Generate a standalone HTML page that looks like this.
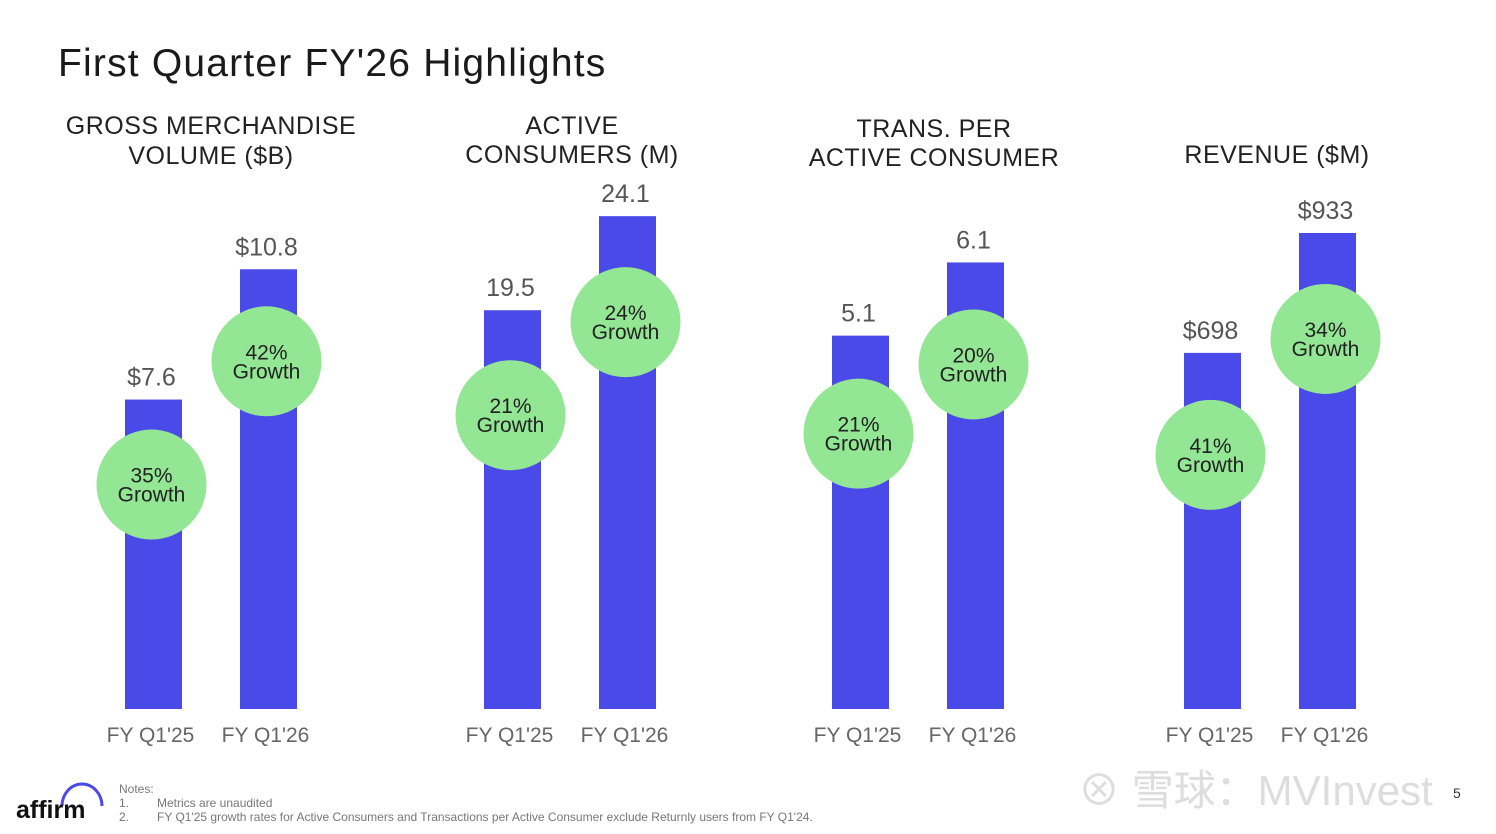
<!DOCTYPE html>
<html><head><meta charset="utf-8"><style>
body{margin:0;background:#fff;font-family:"Liberation Sans","Noto Sans CJK SC",sans-serif;}
#wrap{position:relative;width:1496px;height:834px;overflow:hidden;}
svg text{font-family:"Liberation Sans","Noto Sans CJK SC",sans-serif;}
</style></head><body>
<div id="wrap">
<svg id="chart" width="1496" height="834">
<text x="58" y="76" font-size="39" letter-spacing="1.2" fill="#1a1a1a">First Quarter FY'26 Highlights</text>
<g id="marks"></g>
<g>
<path d="M62 806 A20 22 0 0 1 102 806" stroke="#4a4ae8" stroke-width="3" fill="none"/>
<text x="16" y="818" font-size="25" font-weight="bold" fill="#111">affirm</text>
<text x="119" y="793" font-size="12" fill="#777">Notes:</text>
<text x="119" y="807" font-size="12" fill="#777">1.</text>
<text x="157" y="807" font-size="12" fill="#777">Metrics are unaudited</text>
<text x="119" y="821" font-size="12" fill="#777">2.</text>
<text x="157" y="821" font-size="12" fill="#777">FY Q1'25 growth rates for Active Consumers and Transactions per Active Consumer exclude Returnly users from FY Q1'24.</text>
<text x="1078" y="805" font-size="42" fill="#ddd">⊗ 雪球：MVInvest</text>
<text x="1453" y="798" font-size="14" fill="#333">5</text>
</g>
</svg>
</div>
<script>
const panelTitles=[["GROSS MERCHANDISE","VOLUME ($B)"],["ACTIVE","CONSUMERS (M)"],["TRANS. PER","ACTIVE CONSUMER"],["REVENUE ($M)"]];
const categories=["FY Q1'25","FY Q1'26"];
const prevValues=[7.6,19.5,5.1,698];
const currValues=[10.8,24.1,6.1,933];
const prevLabels=["$7.6","19.5","5.1","$698"];
const currLabels=["$10.8","24.1","6.1","$933"];
const prevGrowth=["35%","21%","21%","41%"];
const currGrowth=["42%","24%","20%","34%"];
const domainMax=[12.28,24.45,6.83,980];

const NS="http://www.w3.org/2000/svg";
const g=document.getElementById('marks');
const base=709, plotH=500;
const panelCenters=[211,570,918,1270];
const titleCenters=[211,572,934,1277];
const titleY=[[134,164],[134,163],[137,166],[163]];
const badgeOffset=[[85,92],[105,106],[98,102],[102,106]];
function mk(tag,attrs,text){const e=document.createElementNS(NS,tag);for(const k in attrs)e.setAttribute(k,attrs[k]);if(text!==undefined)e.textContent=text;g.appendChild(e);return e;}
function yScale(i,v){return base-v/domainMax[i]*plotH;}
for(let i=0;i<4;i++){
  const cx=panelCenters[i];
  panelTitles[i].forEach((t,j)=>{
    const e=mk('text',{x:titleCenters[i],y:titleY[i][j],'font-size':25,'text-anchor':'middle',fill:'#222','letter-spacing':0.5},t);
    
    
  });
  const vals=[prevValues[i],currValues[i]], labs=[prevLabels[i],currLabels[i]], gr=[prevGrowth[i],currGrowth[i]];
  for(let k=0;k<2;k++){
    const bx=cx-57.5+k*115;
    const top=yScale(i,vals[k]);
    const r=mk('rect',{x:bx-28.5,y:top,width:57,height:base-top,fill:'#4a4ae8'});
    
    
    const vl=mk('text',{x:bx-2,y:top-14,'font-size':25,'text-anchor':'middle',fill:'#555'},labs[k]);
    
    
    const cyy=top+badgeOffset[i][k], ccx=bx-2;
    const c=mk('circle',{cx:ccx,cy:cyy,r:55,fill:'#93e694'});
    
    
    const t1=mk('text',{x:ccx,y:cyy-2,'font-size':21,'text-anchor':'middle',fill:'#222'},gr[k]);
    
    
    const t2=mk('text',{x:ccx,y:cyy+17,'font-size':21,'text-anchor':'middle',fill:'#222'},'Growth');
    
    
    const xl=mk('text',{x:bx-3,y:742,'font-size':21,'text-anchor':'middle',fill:'#666'},categories[k]);
    
    
  }
}
</script>
</body></html>
